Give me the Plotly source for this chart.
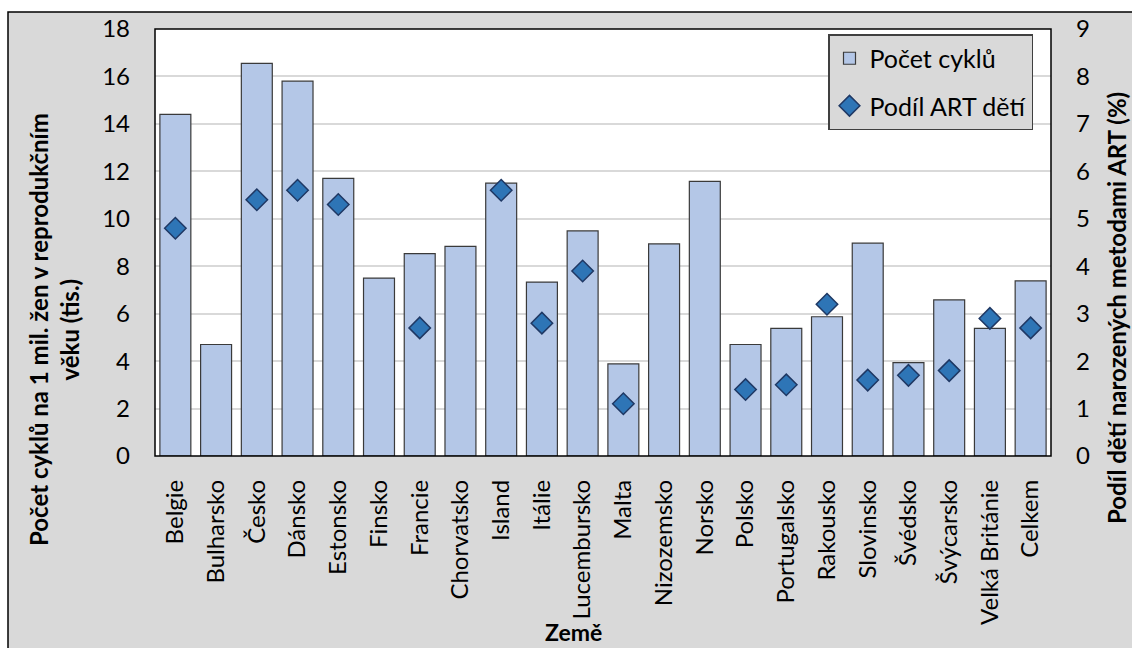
import plotly.graph_objects as go

# Countries (x categories)
countries = ["Belgie", "Bulharsko", "Česko", "Dánsko", "Estonsko", "Finsko", "Francie",
             "Chorvatsko", "Island", "Itálie", "Lucembursko", "Malta", "Nizozemsko", "Norsko",
             "Polsko", "Portugalsko", "Rakousko", "Slovinsko", "Švédsko", "Švýcarsko",
             "Velká Británie", "Celkem"]

# Number of ART cycles per 1 million women of reproductive age (thousands)
cycles = [14.4, 4.7, 16.55, 15.8, 11.7, 7.5, 8.53, 8.84, 11.5, 7.33, 9.49, 3.88, 8.94, 11.58,
          4.7, 5.38, 5.87, 8.97, 3.94, 6.58, 5.38, 7.38]

# Share of children born via ART (%); None where not reported
art_share = [4.8, None, 5.4, 5.6, 5.3, None, 2.7, None, 5.6, 2.8, 3.9, 1.1, None, None,
             1.4, 1.5, 3.2, 1.6, 1.7, 1.8, 2.9, 2.7]

left_ticks = list(range(0, 19, 2))
right_ticks = list(range(0, 10))

FONT = "Lato"
W, H = 1132, 648
L, R, T, B = 155, 1051, 29, 456
pw, ph = R - L, B - T


def px_x(x):
    return (x - L) / pw


def px_y(y):
    return (B - y) / ph


fig = go.Figure()

fig.add_trace(go.Bar(
    x=countries, y=cycles, name="Počet cyklů",
    marker=dict(color="#b4c7e7", line=dict(color="#3a3a3a", width=1.2)),
    legendgroup="a",
))

fig.add_trace(go.Scatter(
    x=countries, y=art_share, name="Podíl ART dětí", yaxis="y2", mode="markers",
    marker=dict(symbol="diamond", size=16.5, color="#2e75b6",
                line=dict(color="#1f3864", width=1.5)),
    legendgroup="b",
))

shapes = [
    # outer grey frame
    dict(type="rect", xref="paper", yref="paper", layer="below",
         x0=px_x(8), x1=px_x(1200), y0=px_y(720), y1=px_y(12),
         fillcolor="#d9d9d9", line=dict(color="black", width=1.5)),
    # white plotting area
    dict(type="rect", xref="paper", yref="paper", layer="below",
         x0=0, x1=1, y0=0, y1=1, fillcolor="white", line=dict(width=0)),
    # plot border
    dict(type="rect", xref="paper", yref="paper", layer="above",
         x0=0, x1=1, y0=0, y1=1, line=dict(color="black", width=1.5)),
]

annotations = [
    dict(text="<b>Počet cyklů na 1 mil. žen v reprodukčním<br>věku (tis.)</b>",
         xref="paper", yref="paper", x=px_x(54), y=px_y(330), textangle=-90,
         xanchor="center", yanchor="middle", showarrow=False,
         font=dict(family=FONT, size=24, color="black")),
    dict(text="<b>Podíl dětí narozených metodami ART (%)</b>",
         xref="paper", yref="paper", x=px_x(1116), y=px_y(308), textangle=-90,
         xanchor="center", yanchor="middle", showarrow=False,
         font=dict(family=FONT, size=24, color="black")),
    dict(text="<b>Země</b>",
         xref="paper", yref="paper", x=px_x(573), y=px_y(632),
         xanchor="center", yanchor="middle", showarrow=False,
         font=dict(family=FONT, size=23, color="black")),
]

fig.update_layout(
    width=W, height=H,
    margin=dict(l=L, r=W - R, t=T, b=H - B, pad=0, autoexpand=False),
    paper_bgcolor="white", plot_bgcolor="rgba(0,0,0,0)",
    font=dict(family=FONT, size=24, color="black"),
    bargap=0.24,
    showlegend=True,
    legend=dict(x=px_x(828), y=px_y(34), xanchor="left", yanchor="top",
                bgcolor="#d9d9d9", bordercolor="#404040", borderwidth=1.5,
                font=dict(family=FONT, size=25, color="black"),
                traceorder="grouped", tracegroupgap=12, itemwidth=30),
    xaxis=dict(type="category", range=[-0.5, len(countries) - 0.5], tickangle=-90,
               showgrid=False, ticks="", ticklabelstandoff=18, automargin=False,
               tickfont=dict(family=FONT, size=24, color="black")),
    yaxis=dict(range=[0, 18], tickvals=left_ticks, ticktext=[str(v) for v in left_ticks],
               showgrid=True, gridcolor="#d9d9d9", gridwidth=2, zeroline=False,
               ticks="", ticklabelstandoff=24, automargin=False,
               tickfont=dict(family=FONT, size=24, color="black")),
    yaxis2=dict(range=[0, 9], tickvals=right_ticks, ticktext=[str(v) for v in right_ticks],
                overlaying="y", side="right", showgrid=False, zeroline=False,
                ticks="", ticklabelstandoff=24, automargin=False,
                tickfont=dict(family=FONT, size=24, color="black")),
    shapes=shapes,
    annotations=annotations,
)

fig.write_html("out.html")
